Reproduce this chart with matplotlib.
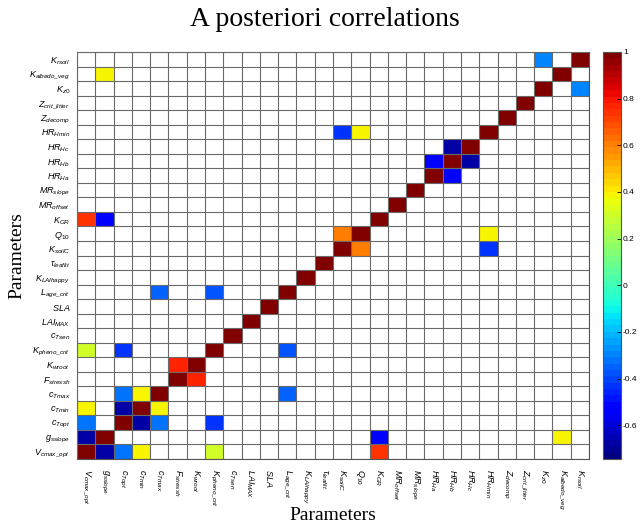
import numpy as np
import matplotlib
matplotlib.use('Agg')
import matplotlib.pyplot as plt

# italic sans labels with subscripts
plt.rcParams['mathtext.fontset'] = 'custom'
plt.rcParams['mathtext.it'] = 'Liberation Sans:italic'
plt.rcParams['mathtext.rm'] = 'Liberation Sans'
plt.rcParams['font.family'] = 'Liberation Sans'

# Parameter names, in axis order (bottom/left first)
params = [r'$V_{cmax\_opt}$', r'$g_{sslope}$', r'$c_{Topt}$', r'$c_{Tmin}$', r'$c_{Tmax}$',
          r'$F_{stressh}$', r'$K_{wroot}$', r'$K_{pheno\_crit}$', r'$c_{Tsen}$', r'$LAI_{MAX}$',
          r'$SLA$', r'$L_{age\_crit}$', r'$K_{LAIhappy}$', r'$\tau_{leaflit}$', r'$K_{soilC}$',
          r'$Q_{10}$', r'$K_{GR}$', r'$MR_{offset}$', r'$MR_{slope}$', r'$HR_{Ha}$',
          r'$HR_{Hb}$', r'$HR_{Hc}$', r'$HR_{Hmin}$', r'$Z_{decomp}$', r'$Z_{crit\_litter}$',
          r'$K_{z0}$', r'$K_{albedo\_veg}$', r'$K_{rsoil}$']

# significant off-diagonal correlations (matrix is symmetric)
pair_i = [0, 0, 0, 0, 0, 1, 1, 2, 2, 2, 3, 4, 5, 7, 14, 14, 15, 19, 20, 25]
pair_j = [1, 2, 3, 7, 16, 16, 26, 3, 4, 7, 4, 11, 6, 11, 15, 22, 22, 20, 21, 27]
pair_r = [-0.69, -0.33, 0.39, 0.30, 0.74, -0.53, 0.39, -0.69, -0.33, -0.42, 0.39, -0.34,
          0.78, -0.38, 0.61, -0.44, 0.39, -0.53, -0.67, -0.29]

n = len(params)
corr = np.full((n, n), np.nan)
np.fill_diagonal(corr, 1.0)
for i, j, r in zip(pair_i, pair_j, pair_r):
    corr[i, j] = r
    corr[j, i] = r

W, H = 640, 527
fig = plt.figure(figsize=(W / 100, H / 100), dpi=100)
ax = fig.add_axes([77 / W, 1 - 459 / H, 512 / W, 407 / H])
cax = fig.add_axes([603 / W, 1 - 459 / H, 18 / W, 407 / H])

edges = np.arange(n + 1) - 0.5
mesh = ax.pcolormesh(edges, edges, np.ma.masked_invalid(corr),
                     cmap=plt.get_cmap('jet', 64), vmin=-0.745, vmax=1)

ax.set_xlim(-0.5, n - 0.5)
ax.set_ylim(-0.5, n - 0.5)
ax.set_xticks(np.arange(n))
ax.set_yticks(np.arange(n))
ax.set_xticklabels(params, rotation=-90, fontsize=6.5, ha='center', va='top')
ax.set_yticklabels(params, fontsize=6.5)
ax.set_xticks(edges, minor=True)
ax.set_yticks(edges, minor=True)
ax.grid(which='minor', color='#6a6a6a', linewidth=0.8)
ax.set_axisbelow(False)
ax.tick_params(which='both', length=0)
ax.tick_params(axis='x', pad=7)
ax.tick_params(axis='y', pad=5)
for s in ax.spines.values():
    s.set_color('#555555')

ax.set_xlabel('Parameters', family='Liberation Serif', fontsize=14, va='center')
ax.xaxis.set_label_coords(0.5, -0.14)
ax.set_ylabel('Parameters', family='Liberation Serif', fontsize=14, va='center')
ax.yaxis.set_label_coords(-0.117, 0.5)

fig.text(325 / W, 1 - 26 / H, 'A posteriori correlations', family='Liberation Serif',
         fontsize=20, ha='center', va='baseline')

cb_ticks = [-0.6, -0.4, -0.2, 0, 0.2, 0.4, 0.6, 0.8, 1]
cb = fig.colorbar(mesh, cax=cax, ticks=cb_ticks)
cb.ax.set_yticklabels(['-0.6', '-0.4', '-0.2', '0', '0.2', '0.4', '0.6', '0.8', '1'])
cax.tick_params(direction='in', length=3, width=0.6, labelsize=6, pad=1.5)
cb.outline.set_edgecolor('#555555')

plt.savefig('out.png', dpi=100)
